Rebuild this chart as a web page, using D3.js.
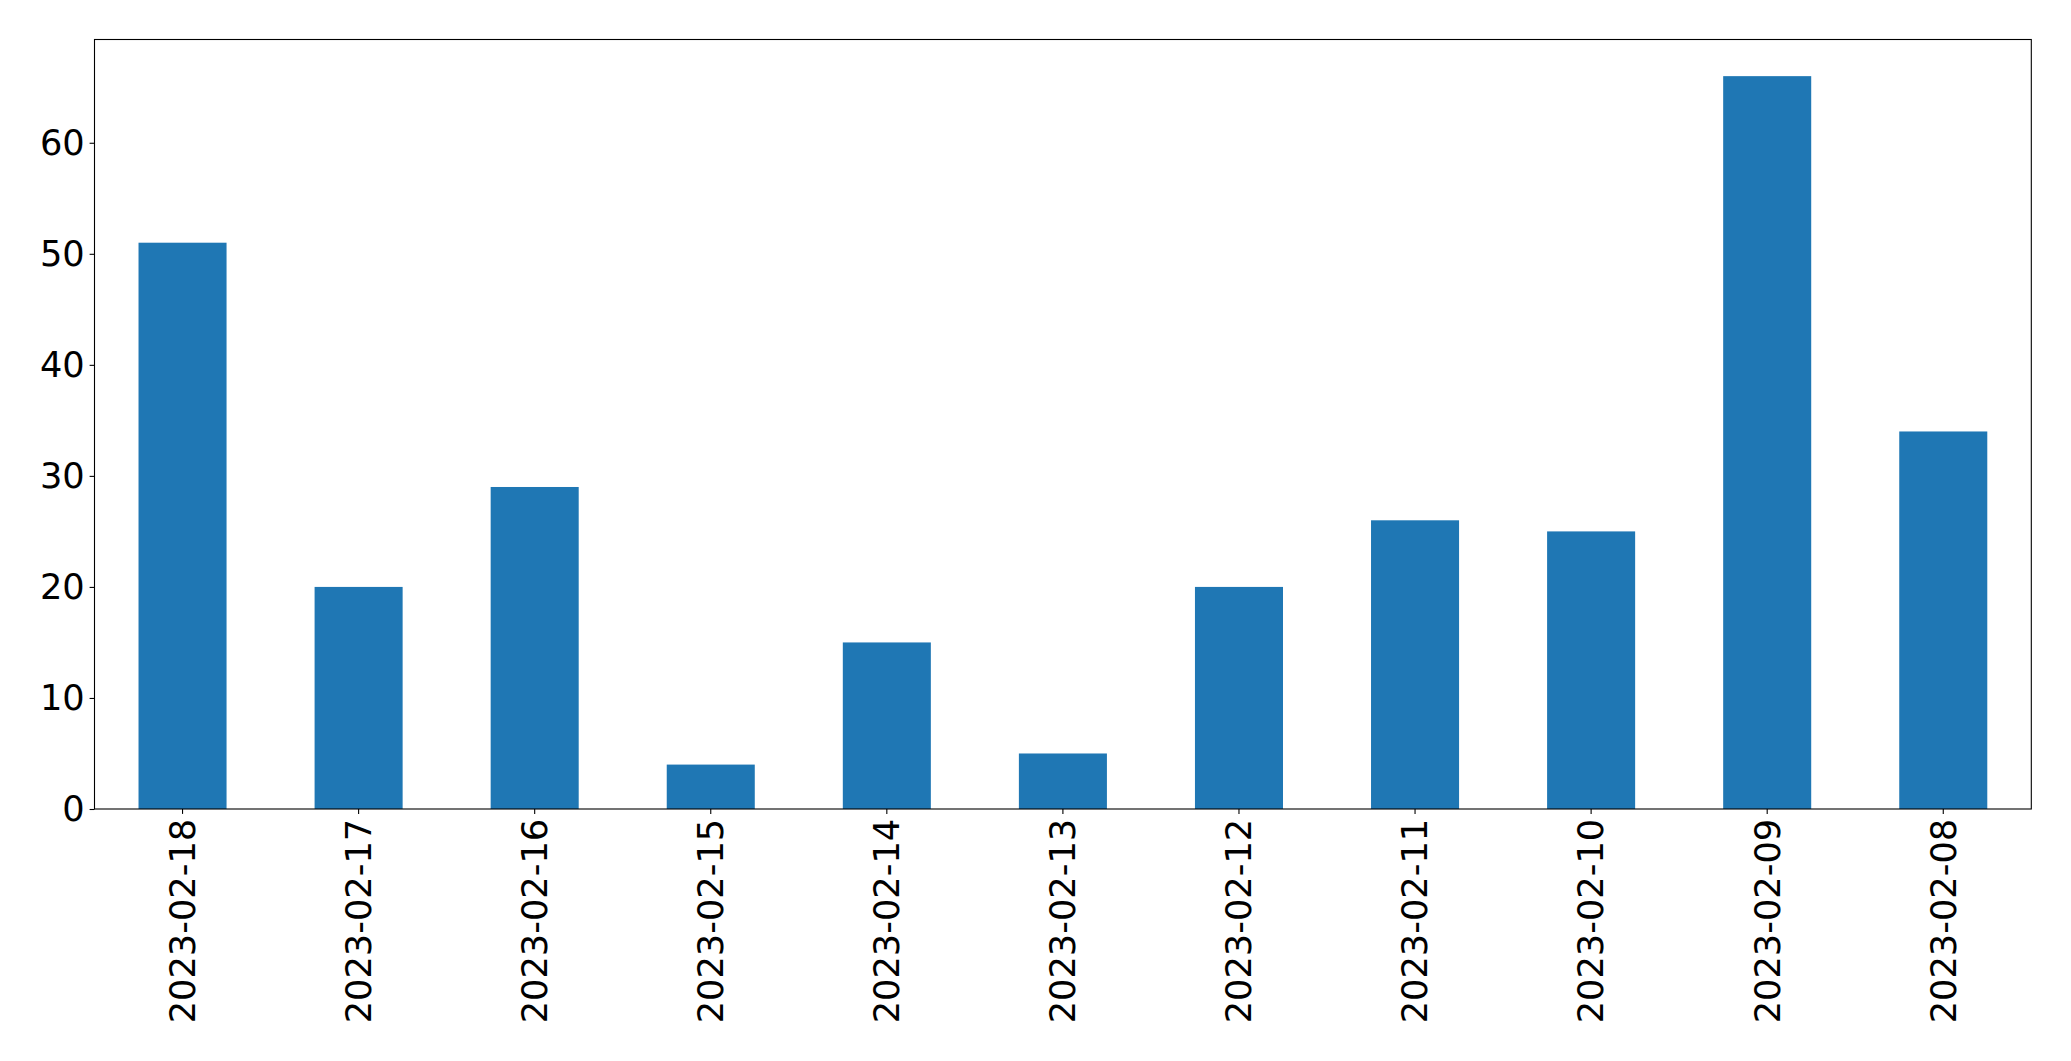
<!DOCTYPE html>
<html>
<head>
<meta charset="utf-8">
<script src="https://cdn.jsdelivr.net/npm/d3@7"></script>
<style>
    body { margin: 0; background: #fff; }
    .tick text { font-family: "DejaVu Sans", sans-serif; font-size: 35.2px; fill: #000; }
</style>
</head>
<body>
<div id="chart"></div>
<script>
// dates, in the order the bars are drawn
const dates = ["2023-02-18", "2023-02-17", "2023-02-16", "2023-02-15", "2023-02-14",
    "2023-02-13", "2023-02-12", "2023-02-11", "2023-02-10", "2023-02-09", "2023-02-08"];
const counts = [51, 20, 29, 4, 15, 5, 20, 26, 25, 66, 34];
const yTicks = [0, 10, 20, 30, 40, 50, 60];

const W = 2071, H = 1061;
const margin = {top: 39.5, right: 39.7, bottom: 252, left: 94.5};
const width = W - margin.left - margin.right,
    height = H - margin.top - margin.bottom;

const svg = d3.select("#chart").append("svg")
    .attr("width", W)
    .attr("height", H)
    .append("g")
    .attr("transform", "translate(" + margin.left + "," + margin.top + ")");

// matplotlib style: bar width 0.5, half a step of room at each end
const x = d3.scaleBand()
    .domain(dates)
    .range([0, width])
    .paddingInner(0.5)
    .paddingOuter(0.25);

const y = d3.scaleLinear()
    .domain([0, d3.max(counts) * 1.05])
    .range([height, 0]);

svg.selectAll(".bar")
    .data(counts)
    .enter().append("rect")
    .attr("class", "bar")
    .attr("x", (d, i) => x(dates[i]))
    .attr("y", d => y(d))
    .attr("width", x.bandwidth())
    .attr("height", d => height - y(d))
    .attr("fill", "#1f77b4");

// y axis
const yAxis = svg.append("g")
    .call(d3.axisLeft(y).tickValues(yTicks).tickSize(4.9).tickPadding(4.9));
yAxis.select(".domain").remove();
yAxis.selectAll(".tick line").attr("stroke", "#000").attr("stroke-width", 1.1);

// x axis with rotated labels
const xAxis = svg.append("g")
    .attr("transform", "translate(0," + height + ")")
    .call(d3.axisBottom(x).tickSize(4.9).tickPadding(4.9));
xAxis.select(".domain").remove();
xAxis.selectAll(".tick line").attr("stroke", "#000").attr("stroke-width", 1.1);
xAxis.selectAll(".tick text")
    .attr("transform", "rotate(-90)")
    .attr("x", -9.8)
    .attr("y", 0)
    .attr("dy", "0.35em")
    .style("text-anchor", "end");

// frame
svg.append("rect")
    .attr("width", width)
    .attr("height", height)
    .attr("fill", "none")
    .attr("stroke", "#000")
    .attr("stroke-width", 1.1);
</script>
</body>
</html>
